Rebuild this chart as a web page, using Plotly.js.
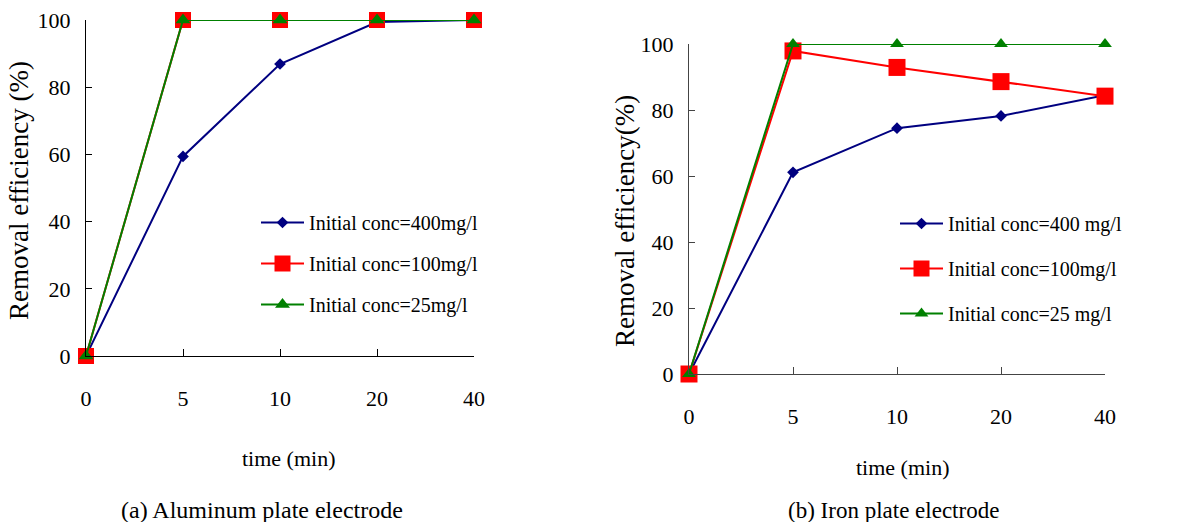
<!DOCTYPE html>
<html>
<head>
<meta charset="utf-8">
<script src="https://cdn.plot.ly/plotly-3.0.1.min.js"></script>
<style>html,body{margin:0;padding:0;background:#fff;}#chart{width:1201px;height:522px;}</style>
</head>
<body>
<div id="chart"></div>
<script>
// Data
const timeCategories = ["0", "5", "10", "20", "40"];
const seriesNames = ["Initial conc=400mg/l", "Initial conc=100mg/l", "Initial conc=25mg/l"];
const seriesNamesIron = ["Initial conc=400 mg/l", "Initial conc=100mg/l", "Initial conc=25 mg/l"];
const alum400 = [0, 59.4, 86.9, 99.4, 100];
const alum100 = [0, 100, 100, 100, 100];
const alum25 = [0, 100, 100, 100, 100];
const iron400 = [0, 61.1, 74.5, 78.2, 84.5];
const iron100 = [0, 97.9, 92.9, 88.6, 84.2];
const iron25 = [0, 100, 100, 100, 100];
const yTickValues = [0, 20, 40, 60, 80, 100];
const panelCaptions = ["(a) Aluminum plate electrode", "(b) Iron plate electrode"];
const xTitleText = "time (min)";
const yTitleA = "Removal efficiency (%)";
const yTitleB = "Removal efficiency(%)";

const W = 1201, H = 522;
const FONT = "Liberation Serif";
const colors = ["#000080", "#FF0000", "#008000"];
const symbols = ["diamond", "square", "triangle-up"];
const msizeA = [9, 16, 13];
const msizeB = [9, 17, 12];

function mk(x, y, name, i, xa, ya, leg, sizes) {
  return {
    x: x, y: y, name: name, type: "scatter", mode: "lines+markers",
    xaxis: xa, yaxis: ya, legend: leg, legendgroup: leg + i,
    line: {color: colors[i], width: 2},
    marker: {symbol: symbols[i], size: sizes[i], color: colors[i]},
    cliponaxis: false
  };
}

const data = [
  mk(timeCategories, alum400, seriesNames[0], 0, "x", "y", "legend", msizeA),
  mk(timeCategories, alum100, seriesNames[1], 1, "x", "y", "legend", msizeA),
  mk(timeCategories, alum25, seriesNames[2], 2, "x", "y", "legend", msizeA),
  mk(timeCategories, iron400, seriesNamesIron[0], 0, "x2", "y2", "legend2", msizeB),
  mk(timeCategories, iron100, seriesNamesIron[1], 1, "x2", "y2", "legend2", msizeB),
  mk(timeCategories, iron25, seriesNamesIron[2], 2, "x2", "y2", "legend2", msizeB)
];

function xax(dom, anchor, lc) {
  return {
    domain: dom, anchor: anchor, type: "category",
    categoryorder: "array", categoryarray: timeCategories,
    range: [0, 4], showgrid: false, zeroline: false,
    showline: true, linecolor: lc, linewidth: 1.2,
    ticks: "inside", ticklen: 7, tickcolor: lc, tickwidth: 1,
    ticklabelstandoff: 22,
    tickfont: {family: FONT, size: 22, color: "#000"},
    fixedrange: true
  };
}
function yax(dom, anchor, lc) {
  return {
    domain: dom, anchor: anchor, range: [0, 100],
    tickvals: yTickValues, showgrid: false, zeroline: false,
    showline: true, linecolor: lc, linewidth: 1.2,
    ticks: "inside", ticklen: 6, tickcolor: lc, tickwidth: 1,
    ticklabelstandoff: 10,
    tickfont: {family: FONT, size: 22, color: "#000"},
    fixedrange: true
  };
}

function ann(text, px, py, size, angle) {
  return {text: text, x: px / W, y: 1 - py / H, xref: "paper", yref: "paper",
    xanchor: "center", yanchor: "middle", showarrow: false,
    textangle: angle || 0, font: {family: FONT, size: size, color: "#000"}};
}

const layout = {
  width: W, height: H,
  margin: {l: 0, r: 0, t: 0, b: 0},
  paper_bgcolor: "#fff", plot_bgcolor: "rgba(0,0,0,0)",
  showlegend: true,
  font: {family: FONT, color: "#000"},
  xaxis: xax([86 / W, 474 / W], "y", "#000"),
  yaxis: yax([166 / H, 502 / H], "x", "#000"),
  xaxis2: xax([689 / W, 1105 / W], "y2", "#444"),
  yaxis2: yax([148 / H, 478 / H], "x2", "#444"),
  legend: {
    x: 256 / W, y: 1 - 203 / H, xanchor: "left", yanchor: "top",
    bgcolor: "rgba(0,0,0,0)", font: {family: FONT, size: 20, color: "#000"},
    traceorder: "grouped", tracegroupgap: 12, itemwidth: 43
  },
  legend2: {
    x: 895 / W, y: 1 - 204 / H, xanchor: "left", yanchor: "top",
    bgcolor: "rgba(0,0,0,0)", font: {family: FONT, size: 20, color: "#000"},
    traceorder: "grouped", tracegroupgap: 16, itemwidth: 43
  },
  annotations: [
    ann(xTitleText, 288, 458, 22),
    ann(xTitleText, 902, 467, 22),
    ann(panelCaptions[0], 262, 510, 24),
    ann(panelCaptions[1], 893, 510, 23),
    ann(yTitleA, 19, 191, 27, -90),
    ann(yTitleB, 625, 221, 27, -90)
  ]
};

Plotly.newPlot("chart", data, layout, {displayModeBar: false, staticPlot: true});
</script>
</body>
</html>
